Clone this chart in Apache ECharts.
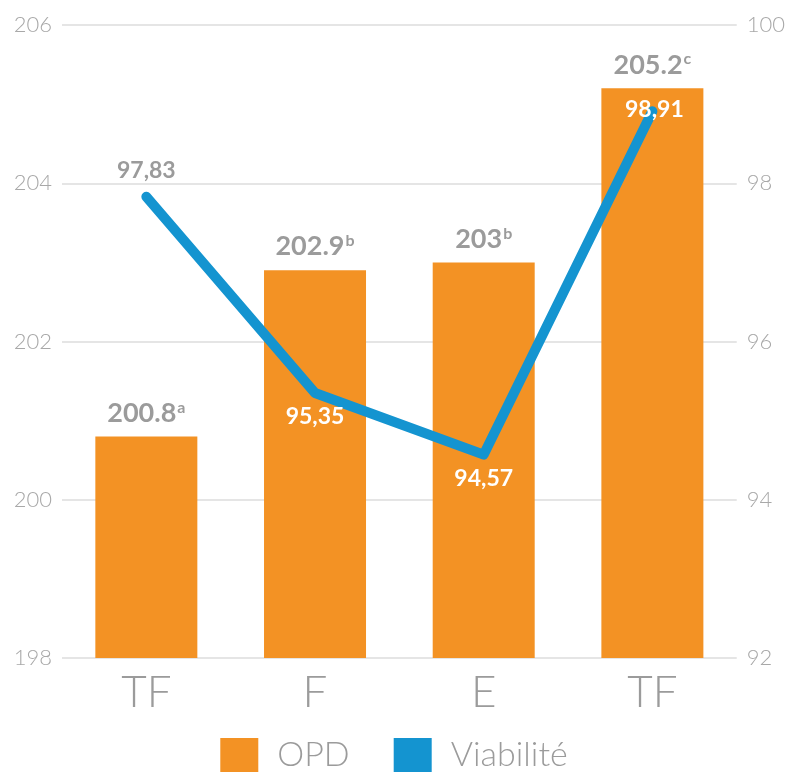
<!DOCTYPE html>
<html>
<head>
<meta charset="utf-8">
<script src="https://cdn.jsdelivr.net/npm/echarts@6/dist/echarts.min.js"></script>
<style>
  html, body { margin: 0; padding: 0; background: #fff; }
  #chart { width: 788px; height: 773px; }
</style>
</head>
<body>
<div id="chart"></div>
<script>
const categories = ['TF', 'F', 'E', 'TF'];
const opdValues = [200.8, 202.9, 203, 205.2];
const opdLetters = ['a', 'b', 'b', 'c'];
const viabValues = [97.83, 95.35, 94.57, 98.91];

const FONT = 'Lato, "Open Sans", sans-serif';
const chart = echarts.init(document.getElementById('chart'));

// line labels: grey above the first point, white inside the bars for the rest
const lineData = viabValues.map((v, i) => {
    const below = i === 1 || i === 2;
    return {
        value: v,
        label: {
            position: below ? 'bottom' : 'top',
            distance: below ? 12 : (i === 3 ? 0 : 14),
            offset: i === 3 ? [2, 10] : [0, 0],
            color: (i === 0) ? '#9b9b9b' : '#ffffff'
        }
    };
});

const option = {
    animation: false,
    grid: { left: 62, right: 50, top: 25, bottom: 115 },
    legend: {
        bottom: -4,
        left: 'center',
        itemWidth: 38,
        itemHeight: 34,
        itemGap: 44,
        icon: 'rect',
        textStyle: { fontFamily: FONT, fontSize: 34, fontWeight: 300, color: '#9b9b9b', padding: [0, 0, 0, 14] },
        data: ['OPD', 'Viabilité']
    },
    xAxis: {
        type: 'category',
        data: categories,
        axisLine: { show: false },
        axisTick: { show: false },
        axisLabel: { fontFamily: FONT, fontSize: 44, fontWeight: 300, color: '#9b9b9b', margin: 13 }
    },
    yAxis: [{
        type: 'value',
        min: 198, max: 206, interval: 2,
        axisLine: { show: false },
        axisTick: { show: false },
        axisLabel: { fontFamily: FONT, fontSize: 22, fontWeight: 300, color: '#a8a8a8', margin: 10 },
        splitLine: { lineStyle: { color: '#dcdcdc', width: 1.5 } }
    }, {
        type: 'value',
        min: 92, max: 100, interval: 2,
        axisLine: { show: false },
        axisTick: { show: false },
        axisLabel: { fontFamily: FONT, fontSize: 22, fontWeight: 300, color: '#a8a8a8', margin: 10 },
        splitLine: { show: false }
    }],
    series: [{
        name: 'OPD',
        type: 'bar',
        data: opdValues,
        barWidth: 102,
        itemStyle: { color: '#f39224' },
        label: {
            show: true,
            position: 'top',
            distance: 10,
            formatter: p => '{v|' + p.value + '}{s|' + opdLetters[p.dataIndex] + '}',
            rich: {
                v: { fontFamily: FONT, fontSize: 27, fontWeight: 'bold', color: '#9b9b9b' },
                s: { fontFamily: FONT, fontSize: 16, fontWeight: 'bold', color: '#9b9b9b', verticalAlign: 'top', padding: [0, 0, 10, 1] }
            }
        }
    }, {
        name: 'Viabilité',
        type: 'line',
        yAxisIndex: 1,
        data: lineData,
        symbol: 'circle',
        symbolSize: 1,
        showSymbol: true,
        lineStyle: { color: '#1494d0', width: 10, cap: 'round', join: 'round' },
        itemStyle: { color: '#1494d0' },
        label: {
            show: true,
            fontFamily: FONT,
            fontSize: 23,
            fontWeight: 'bold',
            formatter: p => p.value.toFixed(2).replace('.', ',')
        }
    }]
};

chart.setOption(option);
</script>
</body>
</html>
